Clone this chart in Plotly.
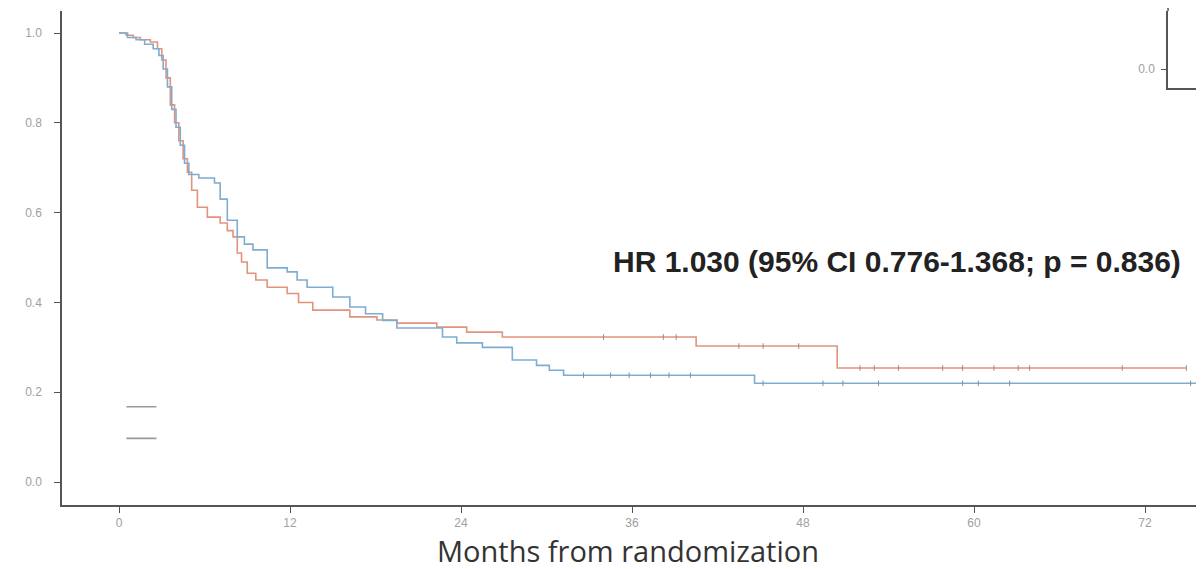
import numpy as np
import plotly.graph_objects as go

# ---- data ----
red_t = [0, 0.5, 1.0, 1.5, 2.2, 2.7, 3.0, 3.3, 3.6, 3.9, 4.2, 4.5, 4.8, 5.1, 5.5, 6.2, 7.1, 7.6,
         8.0, 8.3, 8.6, 9.0, 9.6, 10.4, 11.8, 12.6, 13.6, 16.2, 18.1, 19.5, 22.3, 24.4, 26.9,
         40.5, 50.4, 74.9]
red_s = [1.0, 0.995, 0.99, 0.985, 0.98, 0.965, 0.94, 0.90, 0.84, 0.80, 0.76, 0.72, 0.69, 0.65,
         0.612, 0.59, 0.577, 0.56, 0.546, 0.51, 0.49, 0.465, 0.45, 0.434, 0.42, 0.40, 0.383,
         0.368, 0.361, 0.354, 0.345, 0.334, 0.323, 0.303, 0.254, 0.254]
blue_t = [0, 0.6, 1.2, 1.8, 2.4, 2.8, 3.1, 3.4, 3.7, 4.0, 4.3, 4.6, 4.9, 5.6, 6.7, 7.1, 7.6, 8.3,
          8.8, 9.4, 10.4, 11.8, 12.5, 13.2, 15.0, 16.2, 17.3, 18.5, 19.5, 22.7, 23.7, 25.5, 27.6,
          29.3, 30.2, 31.2, 44.6, 76.5]
blue_s = [1.0, 0.99, 0.985, 0.975, 0.965, 0.95, 0.92, 0.88, 0.83, 0.79, 0.75, 0.71, 0.685, 0.677,
          0.666, 0.63, 0.583, 0.546, 0.53, 0.517, 0.477, 0.468, 0.45, 0.434, 0.412, 0.39, 0.375,
          0.36, 0.343, 0.323, 0.31, 0.30, 0.272, 0.26, 0.249, 0.238, 0.22, 0.22]
red_cens = [34.0, 38.2, 39.1, 43.5, 45.2, 47.7, 52.0, 53.0, 54.7, 57.8, 59.2, 61.4, 63.1, 63.9, 70.4, 74.9]
blue_cens = [32.6, 34.5, 35.8, 37.3, 38.6, 40.1, 45.2, 49.4, 50.8, 53.3, 59.2, 60.3, 62.5, 75.2]
x_ticks = [0, 12, 24, 36, 48, 60, 72]
y_ticks = [0.0, 0.2, 0.4, 0.6, 0.8, 1.0]
hr_text = "HR 1.030 (95% CI 0.776-1.368; p = 0.836)"
x_title = "Months from randomization"

RED = "#E2937D"
BLUE = "#7EADCF"
AX = "#555555"
TICKFONT = dict(family="Liberation Sans, Arial, sans-serif", size=12, color="#a0a0a0")


def step_at(ts, ss, q):
    ts = np.asarray(ts)
    ss = np.asarray(ss)
    idx = np.searchsorted(ts, q, side="right") - 1
    return ss[np.clip(idx, 0, len(ss) - 1)]


fig = go.Figure()
fig.add_trace(go.Scatter(x=red_t, y=red_s, mode="lines", line=dict(color=RED, width=1.6, shape="hv"),
                         showlegend=False))
fig.add_trace(go.Scatter(x=blue_t, y=blue_s, mode="lines", line=dict(color=BLUE, width=1.6, shape="hv"),
                         showlegend=False))
fig.add_trace(go.Scatter(x=red_cens, y=step_at(red_t, red_s, red_cens), mode="markers",
                         marker=dict(symbol="line-ns", size=4, line=dict(width=1, color="#9a8a85")),
                         showlegend=False))
fig.add_trace(go.Scatter(x=blue_cens, y=step_at(blue_t, blue_s, blue_cens), mode="markers",
                         marker=dict(symbol="line-ns", size=4, line=dict(width=1, color="#85929a")),
                         showlegend=False))
# legend keys (labels not visible in reference)
for nm in ["\u2009", "\u2009\u2009"]:
    fig.add_trace(go.Scatter(x=[None], y=[None], mode="lines", name=nm,
                             line=dict(color="#9a9a9a", width=1.6)))

# inset axis fragment (top-right corner)
fig.add_trace(go.Scatter(x=[None], y=[None], xaxis="x2", yaxis="y2", showlegend=False))

fig.add_annotation(x=54.6, y=0.492, xref="x", yref="y", text="<b>" + hr_text + "</b>", showarrow=False,
                   font=dict(family="Liberation Sans, Arial, sans-serif", size=30, color="#222222"),
                   xanchor="center", yanchor="middle")
fig.add_annotation(x=0.4956, y=-0.093, xref="paper", yref="paper", text=x_title, showarrow=False,
                   font=dict(family="Open Sans, Noto Sans, sans-serif", size=29, color="#333333"),
                   xanchor="center", yanchor="middle")

fig.update_layout(
    width=1196, height=561,
    margin=dict(l=54, r=0, t=3, b=64, autoexpand=False),
    paper_bgcolor="white", plot_bgcolor="white",
    xaxis=dict(range=[-4, 76.14], tickvals=x_ticks, ticktext=[str(v) for v in x_ticks],
               showgrid=False, zeroline=False, showline=True, linecolor=AX, linewidth=1.5,
               ticks="outside", ticklen=6, tickcolor=AX, tickfont=TICKFONT, automargin=False),
    yaxis=dict(range=[-0.051, 1.049], tickvals=y_ticks, ticktext=[f"{v:.1f}" for v in y_ticks],
               showgrid=False, zeroline=False, showline=True, linecolor=AX, linewidth=1.5,
               ticks="outside", ticklen=6, tickcolor=AX, tickfont=TICKFONT, ticklabelstandoff=10,
               automargin=False),
    xaxis2=dict(domain=[0.9685, 1.0], anchor="y2", range=[0, 1], showgrid=False, zeroline=False,
                showline=True, linecolor=AX, linewidth=1.5, showticklabels=False, ticks=""),
    yaxis2=dict(domain=[0.844, 1.0], anchor="x2", range=[-0.0247, 0.0753], tickvals=[0], ticktext=["0.0"],
                showgrid=False, zeroline=False, showline=True, linecolor=AX, linewidth=1.5,
                ticks="outside", ticklen=5, tickcolor=AX, tickfont=TICKFONT, ticklabelstandoff=4),
    legend=dict(x=0.052, y=0.166, xanchor="left", yanchor="middle", bgcolor="rgba(0,0,0,0)",
                font=dict(size=22), tracegroupgap=0, itemwidth=30),
    showlegend=True,
)
fig.add_shape(type="line", xref="x2 domain", yref="y2 domain", x0=0, x1=0, y0=1, y1=1.05,
              line=dict(color=AX, width=1.5))

fig.write_html("out.html")
